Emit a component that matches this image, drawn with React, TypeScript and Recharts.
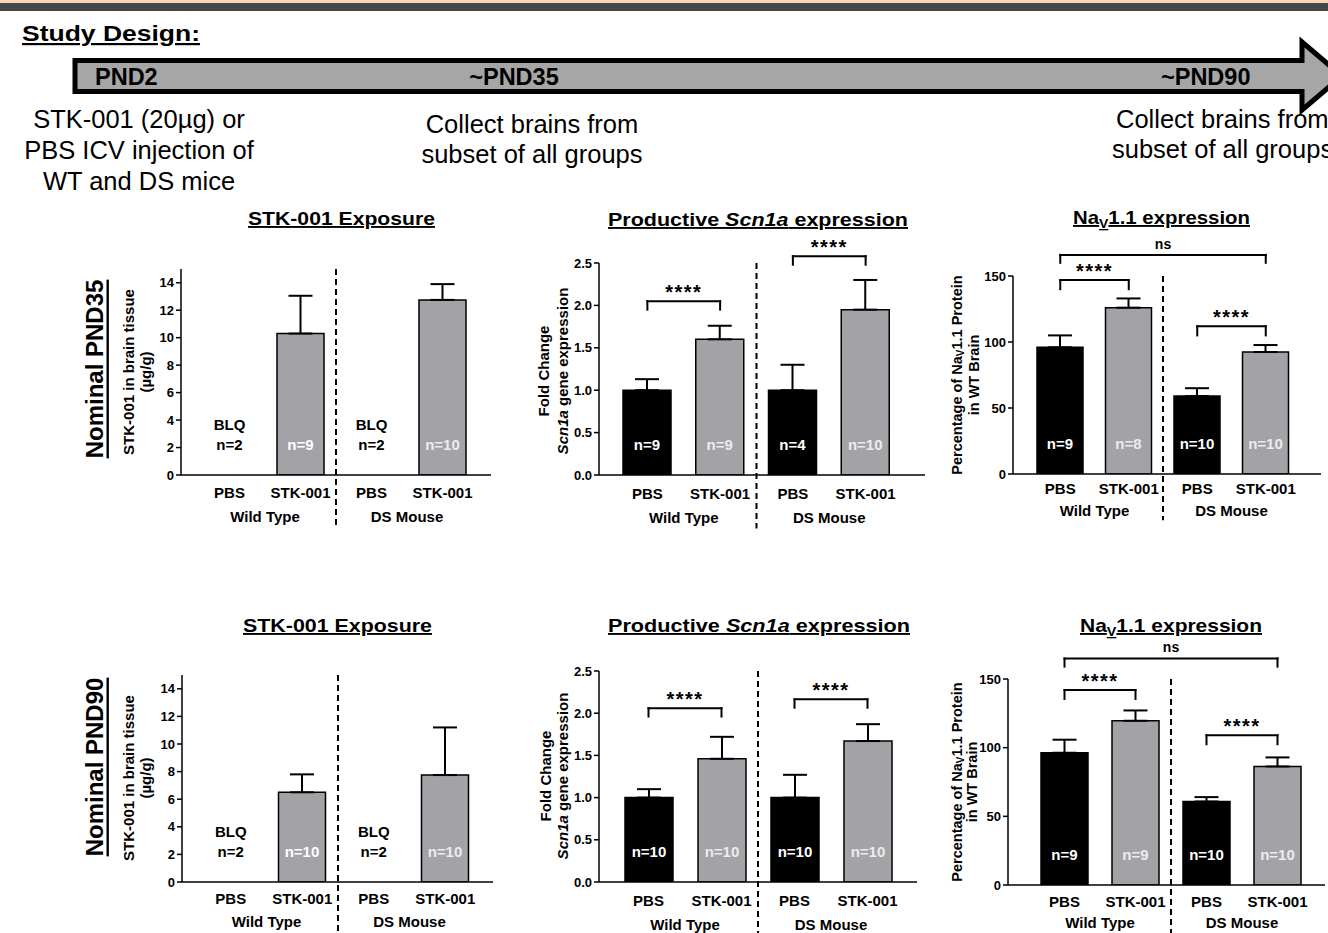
import React from 'react';
import { BarChart, Bar, XAxis, YAxis, Cell, ErrorBar, LabelList, ReferenceLine } from 'recharts';

const FONT = 'Arial, "Liberation Sans", Helvetica, sans-serif';
const BAR_GREY = '#a3a3a7';

// shared categories
const categories = ['WT-PBS', 'WT-STK', 'DS-PBS', 'DS-STK'];
const tickLabels = ['PBS', 'STK-001', 'PBS', 'STK-001'];
const groupLabels = ['Wild Type', 'DS Mouse'];
const blqLabels = ['BLQ', '', 'BLQ', ''];

// Nominal PND35
const exposure35Mean = [0, 10.3, 0, 12.75];
const exposure35Sd = [0, 2.75, 0, 1.15];
const exposure35N = ['n=2', 'n=9', 'n=2', 'n=10'];

const scn1a35Mean = [1.0, 1.6, 1.0, 1.95];
const scn1a35Sd = [0.13, 0.16, 0.3, 0.35];
const scn1a35N = ['n=9', 'n=9', 'n=4', 'n=10'];

const nav35Mean = [96, 126, 59, 92.4];
const nav35Sd = [9, 7, 6, 5.3];
const nav35N = ['n=9', 'n=8', 'n=10', 'n=10'];

// Nominal PND90
const exposure90Mean = [0, 6.5, 0, 7.75];
const exposure90Sd = [0, 1.3, 0, 3.45];
const exposure90N = ['n=2', 'n=10', 'n=2', 'n=10'];

const scn1a90Mean = [1.0, 1.46, 1.0, 1.67];
const scn1a90Sd = [0.1, 0.26, 0.27, 0.2];
const scn1a90N = ['n=10', 'n=10', 'n=10', 'n=10'];

const nav90Mean = [96.3, 119.6, 60.8, 86.3];
const nav90Sd = [9.5, 7.5, 3.2, 6.6];
const nav90N = ['n=9', 'n=9', 'n=10', 'n=10'];

// significance brackets (y in data units)
const scn1a35Brackets = [
  { from: 'WT-PBS', to: 'WT-STK', y: 2.05, drop: 0.1, label: '****' },
  { from: 'DS-PBS', to: 'DS-STK', y: 2.58, drop: 0.1, label: '****' },
];
const nav35Brackets = [
  { from: 'WT-PBS', to: 'DS-STK', y: 166, drop: 6, label: 'ns' },
  { from: 'WT-PBS', to: 'WT-STK', y: 147, drop: 7, label: '****' },
  { from: 'DS-PBS', to: 'DS-STK', y: 112, drop: 7, label: '****' },
];
const scn1a90Brackets = [
  { from: 'WT-PBS', to: 'WT-STK', y: 2.06, drop: 0.1, label: '****' },
  { from: 'DS-PBS', to: 'DS-STK', y: 2.165, drop: 0.1, label: '****' },
];
const nav90Brackets = [
  { from: 'WT-PBS', to: 'DS-STK', y: 165, drop: 6, label: 'ns' },
  { from: 'WT-PBS', to: 'WT-STK', y: 142, drop: 6.5, label: '****' },
  { from: 'DS-PBS', to: 'DS-STK', y: 109, drop: 6.5, label: '****' },
];

const makeRows = (mean, sd, n, blq) =>
  categories.map((id, i) => ({
    id,
    mean: mean[i],
    err: sd[i] > 0 ? [0, sd[i]] : null,
    n: n[i],
    blq: blq ? blq[i] : '',
  }));

const boldText = { fontSize: 15, fontWeight: 700, fontFamily: FONT, fill: '#000', textAnchor: 'middle' as const };

// x tick: category + group label, plus BLQ notes for bars below quantitation
const XTick = (props) => {
  const { x, y, payload, band, tickDy, groupDy, rows } = props;
  const i = categories.indexOf(payload.value);
  const row = rows[i];
  return (
    <g>
      <text x={x} y={y + tickDy} {...boldText}>{tickLabels[i]}</text>
      {i % 2 === 1 ? (
        <text x={x - band / 2} y={y + groupDy} {...boldText}>{groupLabels[(i - 1) / 2]}</text>
      ) : null}
      {row && row.blq ? (
        <g>
          <text x={x} y={y - 45} {...boldText}>{row.blq}</text>
          <text x={x} y={y - 25} {...boldText}>{row.n}</text>
        </g>
      ) : null}
    </g>
  );
};

const NLabel = (props) => {
  const vb = props.viewBox || props;
  const { x, y, width, height } = vb;
  if (!props.value || !height || height <= 0) return null;
  const fill = props.index % 2 === 0 ? '#fff' : '#ececec';
  return (
    <text x={x + width / 2} y={y + height - 25} {...boldText} fill={fill}>
      {props.value}
    </text>
  );
};

const line = { stroke: '#000', strokeWidth: 2, ifOverflow: 'visible' as const, strokeLinecap: 'square' as const };

const bracketLines = (b, k) => {
  const isNs = b.label === 'ns';
  return [
    <ReferenceLine key={`${k}-a`} {...line} segment={[{ x: b.from, y: b.y - b.drop }, { x: b.from, y: b.y }]} />,
    <ReferenceLine
      key={`${k}-b`}
      {...line}
      segment={[{ x: b.from, y: b.y }, { x: b.to, y: b.y }]}
      label={{
        value: b.label,
        position: 'top',
        offset: isNs ? 6 : 2,
        fill: '#000',
        fontSize: isNs ? 14 : 20,
        fontWeight: 700,
        fontFamily: FONT,
        letterSpacing: isNs ? 0 : 1.5,
      }}
    />,
    <ReferenceLine key={`${k}-c`} {...line} segment={[{ x: b.to, y: b.y }, { x: b.to, y: b.y - b.drop }]} />,
  ];
};

function Panel({ cfg }) {
  const { left, top, width, height, plot, rows, domain, ticks, fmt, pad, barSize, brackets, divBottom, tickDy, groupDy } = cfg;
  const yAxisW = 40;
  const margin = {
    top: plot.top - top,
    left: plot.left - left - yAxisW,
    right: left + width - plot.right,
    bottom: 0,
  };
  const xAxisHeight = top + height - plot.bottom;
  const band = (plot.right - plot.left - pad.left - pad.right) / 4;
  return (
    <div style={{ position: 'absolute', left, top, width, height }}>
      <BarChart width={width} height={height} data={rows} margin={margin}>
        <XAxis
          dataKey="id"
          type="category"
          interval={0}
          padding={pad}
          height={xAxisHeight}
          tickLine={false}
          tickSize={0}
          tickMargin={0}
          axisLine={{ stroke: '#000', strokeWidth: 1.5 }}
          tick={(p) => <XTick {...p} band={band} tickDy={tickDy} groupDy={groupDy} rows={rows} />}
        />
        <YAxis
          type="number"
          domain={domain}
          ticks={ticks}
          allowDataOverflow
          width={yAxisW}
          tickFormatter={fmt}
          tickSize={5}
          tickMargin={2}
          axisLine={{ stroke: '#000', strokeWidth: 1.5 }}
          tickLine={{ stroke: '#000', strokeWidth: 1.5 }}
          tick={{ fill: '#000', fontSize: 13, fontWeight: 700, fontFamily: FONT }}
        />
        <Bar dataKey="mean" barSize={barSize} isAnimationActive={false}>
          {rows.map((r, i) => (
            <Cell key={r.id} fill={i % 2 === 0 ? '#000' : BAR_GREY} stroke="#000" strokeWidth={1.5} />
          ))}
          <ErrorBar dataKey="err" direction="y" width={12} stroke="#000" strokeWidth={2} isAnimationActive={false} />
          <LabelList dataKey="n" content={NLabel} />
        </Bar>
        <ReferenceLine
          segment={[{ x: 'DS-PBS', y: domain[1] }, { x: 'DS-PBS', y: divBottom }]}
          position="start"
          stroke="#000"
          strokeWidth={2}
          strokeDasharray="6 4"
          ifOverflow="visible"
        />
        {(brackets || []).flatMap((b, k) => bracketLines(b, k))}
      </BarChart>
    </div>
  );
}

const fmt1 = (v) => v.toFixed(1);

const panels = [
  {
    left: 100, top: 230, width: 420, height: 320,
    plot: { left: 181, right: 491, top: 269, bottom: 475 },
    rows: makeRows(exposure35Mean, exposure35Sd, exposure35N, blqLabels),
    domain: [0, 15], ticks: [0, 2, 4, 6, 8, 10, 12, 14], pad: { left: 13, right: 13 }, barSize: 47,
    divBottom: -3.8, tickDy: 23, groupDy: 47,
  },
  {
    left: 510, top: 225, width: 420, height: 325,
    plot: { left: 599, right: 925, top: 263, bottom: 475 },
    rows: makeRows(scn1a35Mean, scn1a35Sd, scn1a35N),
    domain: [0, 2.5], ticks: [0, 0.5, 1, 1.5, 2, 2.5], fmt: fmt1, pad: { left: 12, right: 23 }, barSize: 48,
    brackets: scn1a35Brackets, divBottom: -0.63, tickDy: 24, groupDy: 48,
  },
  {
    left: 940, top: 225, width: 388, height: 325,
    plot: { left: 1013, right: 1321, top: 276, bottom: 474 },
    rows: makeRows(nav35Mean, nav35Sd, nav35N),
    domain: [0, 150], ticks: [0, 50, 100, 150], pad: { left: 13, right: 21 }, barSize: 46,
    brackets: nav35Brackets, divBottom: -35, tickDy: 20, groupDy: 42,
  },
  {
    left: 100, top: 640, width: 420, height: 293,
    plot: { left: 182, right: 493, top: 675, bottom: 882 },
    rows: makeRows(exposure90Mean, exposure90Sd, exposure90N, blqLabels),
    domain: [0, 15], ticks: [0, 2, 4, 6, 8, 10, 12, 14], pad: { left: 13, right: 12 }, barSize: 47,
    divBottom: -4, tickDy: 22, groupDy: 45,
  },
  {
    left: 510, top: 630, width: 420, height: 303,
    plot: { left: 599, right: 917, top: 671, bottom: 882 },
    rows: makeRows(scn1a90Mean, scn1a90Sd, scn1a90N),
    domain: [0, 2.5], ticks: [0, 0.5, 1, 1.5, 2, 2.5], fmt: fmt1, pad: { left: 13, right: 13 }, barSize: 48,
    brackets: scn1a90Brackets, divBottom: -0.7, tickDy: 24, groupDy: 48,
  },
  {
    left: 940, top: 630, width: 388, height: 303,
    plot: { left: 1008, right: 1325, top: 679, bottom: 885 },
    rows: makeRows(nav90Mean, nav90Sd, nav90N),
    domain: [0, 150], ticks: [0, 50, 100, 150], pad: { left: 21, right: 12 }, barSize: 47,
    brackets: nav90Brackets, divBottom: -37, tickDy: 22, groupDy: 43,
  },
];

const RotLabel = ({ x, y, size = 15, children }) => (
  <text
    transform={`translate(${x}, ${y}) rotate(-90)`}
    textAnchor="middle"
    dominantBaseline="central"
    fontSize={size}
    fontWeight={700}
    fill="#000"
  >
    {children}
  </text>
);

const Title = ({ x, y, len, children }) => (
  <text x={x} y={y} textAnchor="middle" fontSize={19} fontWeight={700} textDecoration="underline" textLength={len} lengthAdjust="spacingAndGlyphs" fill="#000">
    {children}
  </text>
);

function Overlay() {
  return (
    <svg width={1328} height={933} style={{ position: 'absolute', left: 0, top: 0, pointerEvents: 'none' }} fontFamily={FONT}>
      {/* header strip */}
      <rect x={0} y={0} width={1328} height={3} fill="#f8d4b8" />
      <rect x={0} y={3} width={1328} height={8} fill="#464646" />

      <text x={22} y={41} fontSize={22} fontWeight={700} textDecoration="underline" textLength={178} lengthAdjust="spacingAndGlyphs">
        Study Design:
      </text>

      {/* timeline arrow */}
      <polygon
        points="75,60.5 1302,60.5 1302,42 1342,76 1302,110 1302,91.5 75,91.5"
        fill="#a6a6a6"
        stroke="#000"
        strokeWidth={5}
        strokeLinejoin="miter"
      />
      <text x={95} y={85} fontSize={23.5} fontWeight={700}>PND2</text>
      <text x={514} y={85} fontSize={23.5} fontWeight={700} textAnchor="middle">~PND35</text>
      <text x={1161} y={85} fontSize={23.5} fontWeight={700}>~PND90</text>

      <g fontSize={25.5} textAnchor="middle">
        <text x={139} y={128}>STK-001 (20µg) or</text>
        <text x={139} y={159}>PBS ICV injection of</text>
        <text x={139} y={190}>WT and DS mice</text>
        <text x={532} y={133}>Collect brains from</text>
        <text x={532} y={163}>subset of all groups</text>
      </g>
      <g fontSize={25.5}>
        <text x={1116} y={128}>Collect brains from</text>
        <text x={1112} y={158}>subset of all groups</text>
      </g>

      {/* row labels */}
      <text transform="translate(94, 369) rotate(-90)" textAnchor="middle" dominantBaseline="central" fontSize={24} fontWeight={700} textDecoration="underline">
        Nominal PND35
      </text>
      <text transform="translate(94, 767) rotate(-90)" textAnchor="middle" dominantBaseline="central" fontSize={24} fontWeight={700} textDecoration="underline">
        Nominal PND90
      </text>

      {/* titles */}
      <Title x={341.5} y={225} len={187}>STK-001 Exposure</Title>
      <Title x={758} y={226} len={300}>
        Productive <tspan fontStyle="italic">Scn1a</tspan> expression
      </Title>
      <Title x={1161.5} y={224} len={177}>
        Na<tspan fontSize={13} dy={4}>V</tspan>
        <tspan dy={-4}>1.1 expression</tspan>
      </Title>
      <Title x={337.5} y={632} len={189}>STK-001 Exposure</Title>
      <Title x={759} y={632} len={302}>
        Productive <tspan fontStyle="italic">Scn1a</tspan> expression
      </Title>
      <Title x={1171} y={632} len={182}>
        Na<tspan fontSize={13} dy={4}>V</tspan>
        <tspan dy={-4}>1.1 expression</tspan>
      </Title>

      {/* y-axis labels */}
      <RotLabel x={128} y={372}>STK-001 in brain tissue</RotLabel>
      <RotLabel x={145} y={372}>(µg/g)</RotLabel>
      <RotLabel x={128} y={778}>STK-001 in brain tissue</RotLabel>
      <RotLabel x={145} y={778}>(µg/g)</RotLabel>

      <RotLabel x={543} y={371}>Fold Change</RotLabel>
      <RotLabel x={562} y={371}>
        <tspan fontStyle="italic">Scn1a</tspan> gene expression
      </RotLabel>
      <RotLabel x={545} y={776}>Fold Change</RotLabel>
      <RotLabel x={562} y={776}>
        <tspan fontStyle="italic">Scn1a</tspan> gene expression
      </RotLabel>

      <RotLabel x={957} y={375} size={14.5}>
        Percentage of Na<tspan fontSize={10} dy={3}>V</tspan>
        <tspan dy={-3}>1.1 Protein</tspan>
      </RotLabel>
      <RotLabel x={974} y={375} size={14.5}>in WT Brain</RotLabel>
      <RotLabel x={957} y={782} size={14.5}>
        Percentage of Na<tspan fontSize={10} dy={3}>V</tspan>
        <tspan dy={-3}>1.1 Protein</tspan>
      </RotLabel>
      <RotLabel x={972} y={782} size={14.5}>in WT Brain</RotLabel>
    </svg>
  );
}

export default function App() {
  return (
    <div
      style={{
        position: 'absolute',
        left: 0,
        top: 0,
        width: 1328,
        height: 933,
        overflow: 'hidden',
        background: '#fff',
        fontFamily: FONT,
      }}
    >
      {panels.map((cfg, i) => (
        <Panel key={i} cfg={cfg} />
      ))}
      <Overlay />
    </div>
  );
}
